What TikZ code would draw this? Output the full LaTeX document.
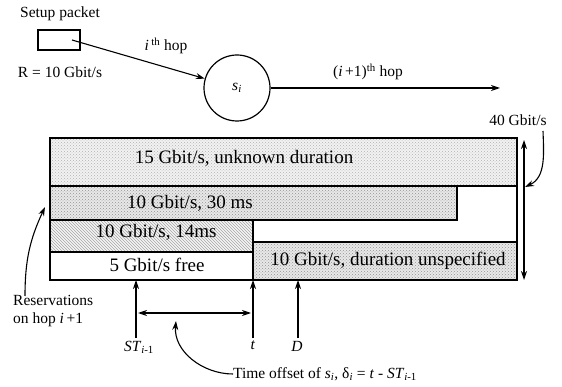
\documentclass[tikz,border=0pt]{standalone}
\usepackage{fontspec}
\setmainfont{Liberation Serif}
\usetikzlibrary{arrows.meta,patterns}
\begin{document}
\begin{tikzpicture}[x=1pt,y=-1pt,
  lbl/.style={inner sep=0pt,font=\fontsize{15.5}{18}\selectfont},
  big/.style={inner sep=0pt,font=\fontsize{19}{22}\selectfont},
  arr/.style={-{Stealth[length=9pt,width=6pt]},line width=1.1pt},
  darr/.style={{Stealth[length=9pt,width=6pt]}-{Stealth[length=9pt,width=6pt]},line width=1.1pt},
  outl/.style={line width=1.2pt},
  dotlight/.style={preaction={fill=gray!10},pattern=crosshatch dots,pattern color=gray!60},
  dotdark/.style={preaction={fill=gray!18},pattern=crosshatch dots,pattern color=gray!85},
  hatch/.style={preaction={fill=gray!8},pattern=north west lines,pattern color=gray!70}]
\useasboundingbox (0,0) rectangle (562,387);
% top part
\node[lbl] (setup) at (60,14) {Setup packet};
\node[draw,outl,minimum width=42pt,minimum height=20pt,inner sep=0pt] (pkt) at (59,40) {};
\coordinate (pktin) at (72,40);
\node[lbl] (rate) at (60,72) {R = 10 Gbit/s};
\node[draw,circle,outl,minimum size=66pt,inner sep=0pt,font=\fontsize{15.5}{18}\selectfont] (si) at (237,88) {\textit{s}\textsubscript{\textit{i}}};
\draw[arr] (pktin) -- (si);
\node[lbl] (hopi) at (166,46) {\textit{i}\,\textsuperscript{th} hop};
\coordinate (hopend) at (500,88);
\draw[arr] (si.east) -- (hopend);
\node[lbl] (hopn) at (368,72) {(\textit{i}\,+1)\textsuperscript{th} hop};
% bands
\path[dotlight] (50,138) rectangle (517,186);
\path[dotdark] (50,186) rectangle (457,220);
\path[hatch] (50,220) rectangle (253,252);
\path[dotdark] (253,242) rectangle (517,280);
\draw[outl] (50,138) rectangle (517,280);
\draw[outl] (50,186) -- (517,186);
\draw[outl] (50,220) -- (457,220) -- (457,186);
\draw[outl] (50,252) -- (253,252);
\draw[outl] (253,220) -- (253,280);
\draw[outl] (253,242) -- (517,242);
\node[big] (t15) at (244,158) {15 Gbit/s, unknown duration};
\node[big] (t30) at (190,203) {10 Gbit/s, 30 ms};
\node[big] (t14) at (156,232) {10 Gbit/s, 14ms};
\node[big] (t5) at (157,265) {5 Gbit/s free};
\node[big] (tun) at (388,261) {10 Gbit/s, duration unspecified};
% 40 Gbit/s
\node[lbl] (g40) at (518,120) {40 Gbit/s};
\coordinate (captop) at (524,140);
\coordinate (capbot) at (524,280);
\draw[darr] (captop) -- (capbot);
\coordinate (g40tip) at (525,187);
\draw[arr] (543,131) to[out=-88,in=25] (g40tip);
% reservations
\node[lbl,align=left,anchor=west] (resv) at (13,311) {Reservations\\on hop \textit{i}\,+1};
\coordinate (resvtip) at (45,207);
\coordinate (resvstart) at (25,296);
\draw[arr] (resvstart) to[out=90,in=245] (resvtip);
% time axis
\coordinate (st) at (136,280);
\coordinate (tt) at (253,280);
\coordinate (dd) at (298,280);
\node[lbl,anchor=north] (stlab) at (139,341) {\textit{ST}\textsubscript{\textit{i}-1}};
\node[lbl,anchor=north] (tlab) at (253,341) {\textit{t}};
\node[lbl,anchor=north] (dlab) at (297,341) {\textit{D}};
\draw[arr] (136,338) -- (st);
\draw[arr] (253,338) -- (tt);
\draw[arr] (298,338) -- (dd);
\coordinate (offl) at (138,313);
\coordinate (offr) at (251,313);
\draw[darr] (offl) -- (offr);
\node[lbl,anchor=west] (toff) at (233,374) {Time offset of \textit{s}\textsubscript{\textit{i}}, δ\textsubscript{\textit{i}} = \textit{t} - \textit{ST}\textsubscript{\textit{i}-1}};
\coordinate (offtip) at (176,321);
\draw[arr] (toff.west) to[out=180,in=-95] (offtip);
\end{tikzpicture}
\end{document}
